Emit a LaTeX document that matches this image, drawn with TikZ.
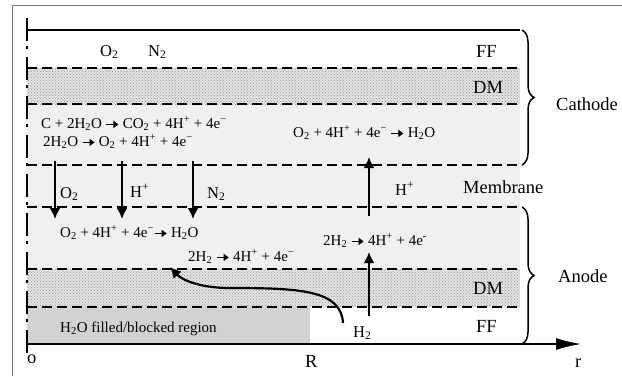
\documentclass[tikz,border=0pt]{standalone}
\usepackage{fontspec}
\setmainfont{Liberation Serif}
\usetikzlibrary{arrows.meta,decorations.pathreplacing,patterns}
\definecolor{framegray}{RGB}{120,120,120}
\definecolor{catgray}{RGB}{240,240,240}
\definecolor{blockgray}{RGB}{210,210,210}
\tikzset{
  % layer boundaries and fills
  layerline/.style={dash pattern=on 10pt off 5pt,line width=2pt},
  dmfill/.style={pattern=crosshatch dots,pattern color=gray!85},
  % text
  lbl/.style={font=\fontsize{18.5}{20}\selectfont,anchor=base west,inner sep=0pt},
  species/.style={font=\fontsize{16.5}{18}\selectfont,anchor=base west,inner sep=0pt},
  rxn/.style={font=\fontsize{15}{17}\selectfont,anchor=base west,inner sep=0pt},
  arr/.style={-{Latex[length=11pt,width=11pt]},line width=2.5pt},
  axisarr/.style={-{Latex[length=26pt,width=12pt]},line width=2.5pt},
  layerbrace/.style={decorate,decoration={brace,amplitude=12pt},line width=1.5pt}
}
\newcommand{\chsub}[1]{\textsubscript{#1}}
\newcommand{\chsup}[1]{\textsuperscript{#1}}
% heavy reaction arrow
\newcommand{\rxnto}{\tikz[baseline=-3.6pt]\draw[-{Triangle[length=5pt,width=7pt]},line width=1.3pt] (0pt,0) -- (12pt,0);}

\begin{document}
\begin{tikzpicture}[x=1pt,y=-1pt]
  \useasboundingbox (0,0) rectangle (622,376);
  \draw[framegray,line width=1pt] (12,376) -- (12,5) -- (622,5);
  % layers
  \fill[catgray] (27,104) rectangle (520,269);
  \fill[gray!22] (27,68) rectangle (520,104);
  \fill[dmfill] (27,68) rectangle (520,104);
  \fill[gray!22] (27,269) rectangle (520,307);
  \fill[dmfill] (27,269) rectangle (520,307);
  \fill[blockgray] (27,307) rectangle (310,344);
  \foreach \y in {68,104,165,207,269,307}
    \draw[layerline] (27,\y) -- (520,\y);
  \draw[line width=2pt] (27,30) -- (520,30);
  \draw[line width=2.5pt,dash pattern=on 23pt off 5pt on 3pt off 8pt] (27,18) -- (27,357);
  \coordinate (orig) at (27,344);
  \coordinate (rend) at (582,344);
  \draw[axisarr] (orig) -- (rend);
  \draw[layerbrace] (522,30) -- (522,165);
  \draw[layerbrace] (522,207) -- (522,344);

  % labels
  \node[lbl] (ffC) at (476,57) {FF};
  \node[lbl] (dmC) at (473,93) {DM};
  \node[lbl] (cathode) at (556,110) {Cathode};
  \node[lbl] (membrane) at (463,193) {Membrane};
  \node[lbl] (anode) at (558,282) {Anode};
  \node[lbl] (dmA) at (473,294) {DM};
  \node[lbl] (ffA) at (476,332) {FF};
  \node[lbl] (o) at (27,363) {o};
  \node[lbl] (R) at (305,367) {R};
  \node[lbl] (r) at (575,367) {r};

  \node[species] (ffO2) at (100,56) {O\chsub{2}};
  \node[species] (ffN2) at (148,56) {N\chsub{2}};
  \node[species] (mO2) at (60,198) {O\chsub{2}};
  \node[species] (mH) at (130,197) {H\chsup{+}};
  \node[species] (mN2) at (207,198) {N\chsub{2}};
  \node[species] (mHr) at (395,195) {H\chsup{+}};
  \node[species] (ffH2) at (353,337) {H\chsub{2}};

  \node[rxn] (rxnC1) at (41,128) {C + 2H\chsub{2}O \rxnto{} CO\chsub{2} + 4H\chsup{+} + 4e\chsup{−}};
  \node[rxn] (rxnC2) at (43,146) {2H\chsub{2}O \rxnto{} O\chsub{2} + 4H\chsup{+} + 4e\chsup{−}};
  \node[rxn] (rxnC3) at (293,137) {O\chsub{2} + 4H\chsup{+} + 4e\chsup{−} \rxnto{} H\chsub{2}O};
  \node[rxn] (rxnA1) at (60,237) {O\chsub{2} + 4H\chsup{+} + 4e\chsup{−}\rxnto{} H\chsub{2}O};
  \node[rxn] (rxnA2) at (188,261) {2H\chsub{2} \rxnto{} 4H\chsup{+} + 4e\chsup{−}};
  \node[rxn] (rxnA3) at (323,245) {2H\chsub{2} \rxnto{} 4H\chsup{+} + 4e\chsup{-}};
  \node[rxn] (blocked) at (60,332) {H\chsub{2}O filled/blocked region};

  % fluxes
  \foreach \x/\n in {55/a,122/b,193/c} {
    \coordinate (dn\n1) at (\x,161);
    \coordinate (dn\n2) at (\x,219);
    \draw[arr] (dn\n1) -- (dn\n2);
  }
  \coordinate (up1) at (369,216);
  \coordinate (up2) at (369,157);
  \coordinate (up3) at (369,316);
  \coordinate (up4) at (369,252);
  \draw[arr] (up1) -- (up2);
  \draw[arr] (up3) -- (up4);
  \coordinate (h2in) at (343,323);
  \coordinate (h2out) at (170,267);
  \draw[arr,line width=2.2pt] (h2in) .. controls (341,290) and (300,288) .. (230,288)
    .. controls (200,288) and (182,280) .. (h2out);
\end{tikzpicture}
\end{document}
